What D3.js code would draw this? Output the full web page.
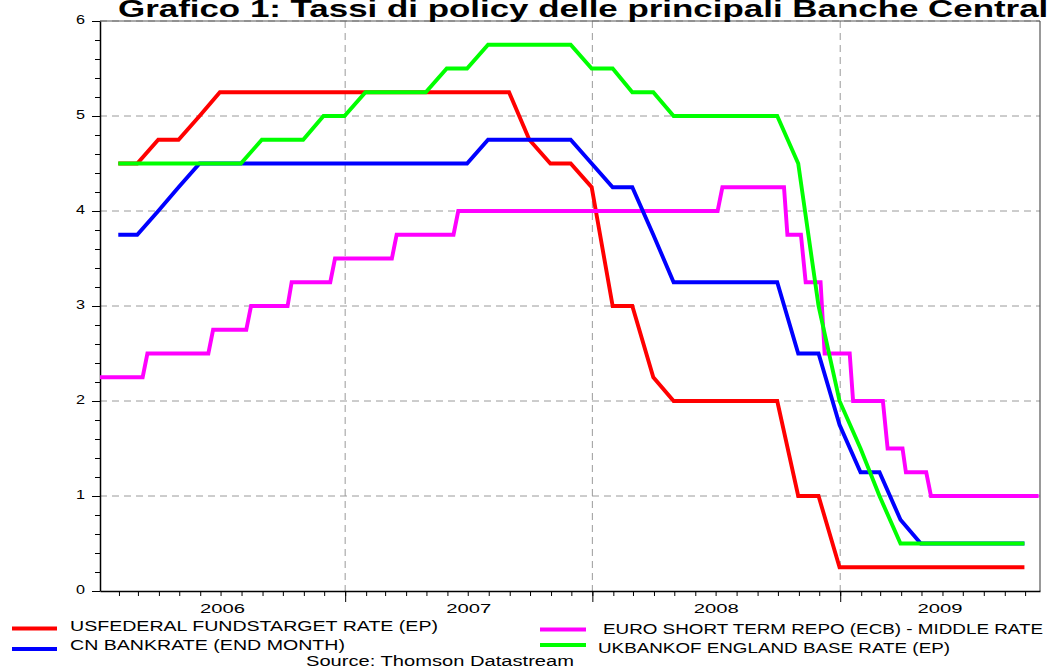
<!DOCTYPE html>
<html>
<head>
<meta charset="utf-8">
<script src="https://cdn.jsdelivr.net/npm/d3@7/dist/d3.min.js"></script>
<style>
  html, body { margin: 0; padding: 0; background: #fff; }
  svg { display: block; font-family: "Liberation Sans", Arial, sans-serif; }
</style>
</head>
<body>
<svg id="chart" width="1047" height="668"></svg>
<script>
// ---------------- DATA ----------------
const titleText = "Grafico 1: Tassi di policy delle principali Banche Centrali";
const sourceText = "Source: Thomson Datastream";

// monthly observations (end of month values)
const months = [
  "2006-01","2006-02","2006-03","2006-04","2006-05","2006-06","2006-07","2006-08","2006-09","2006-10","2006-11","2006-12",
  "2007-01","2007-02","2007-03","2007-04","2007-05","2007-06","2007-07","2007-08","2007-09","2007-10","2007-11","2007-12",
  "2008-01","2008-02","2008-03","2008-04","2008-05","2008-06","2008-07","2008-08","2008-09","2008-10","2008-11","2008-12",
  "2009-01","2009-02","2009-03","2009-04","2009-05","2009-06","2009-07","2009-08","2009-09"
];
const usFedValues = [
  4.5,4.5,4.75,4.75,5.0,5.25,5.25,5.25,5.25,5.25,5.25,5.25,
  5.25,5.25,5.25,5.25,5.25,5.25,5.25,5.25,4.75,4.5,4.5,4.25,
  3.0,3.0,2.25,2.0,2.0,2.0,2.0,2.0,2.0,1.0,1.0,0.25,
  0.25,0.25,0.25,0.25,0.25,0.25,0.25,0.25,0.25
];
const cnBankValues = [
  3.75,3.75,4.0,4.25,4.5,4.5,4.5,4.5,4.5,4.5,4.5,4.5,
  4.5,4.5,4.5,4.5,4.5,4.5,4.75,4.75,4.75,4.75,4.75,4.5,
  4.25,4.25,3.75,3.25,3.25,3.25,3.25,3.25,3.25,2.5,2.5,1.75,
  1.25,1.25,0.75,0.5,0.5,0.5,0.5,0.5,0.5
];
const ukBoeValues = [
  4.5,4.5,4.5,4.5,4.5,4.5,4.5,4.75,4.75,4.75,5.0,5.0,
  5.25,5.25,5.25,5.25,5.5,5.5,5.75,5.75,5.75,5.75,5.75,5.5,
  5.5,5.25,5.25,5.0,5.0,5.0,5.0,5.0,5.0,4.5,3.0,2.0,
  1.5,1.0,0.5,0.5,0.5,0.5,0.5,0.5,0.5
];
// weekly ECB series: observations around each change
const euroDates = [
  "2006-01-04","2006-03-08","2006-03-15","2006-06-13","2006-06-20","2006-08-08","2006-08-15",
  "2006-10-08","2006-10-14","2006-12-10","2006-12-17","2007-03-11","2007-03-18","2007-06-10","2007-06-17",
  "2008-07-04","2008-07-11","2008-10-10","2008-10-15","2008-11-04","2008-11-11","2008-12-03","2008-12-09",
  "2009-01-15","2009-01-20","2009-03-05","2009-03-12","2009-04-03","2009-04-08","2009-05-08","2009-05-15","2009-10-21"
];
const euroValues = [
  2.25,2.25,2.5,2.5,2.75,2.75,3.0,
  3.0,3.25,3.25,3.5,3.5,3.75,3.75,4.0,
  4.0,4.25,4.25,3.75,3.75,3.25,3.25,2.5,
  2.5,2.0,2.0,1.5,1.5,1.25,1.25,1.0,1.0
];

const seriesNames = [
  "USFEDERAL FUNDSTARGET RATE (EP)",
  "EURO SHORT TERM REPO (ECB) - MIDDLE RATE",
  "CN BANKRATE (END MONTH)",
  "UKBANKOF ENGLAND BASE RATE (EP)"
];
const seriesColors = ["#ff0000", "#ff00ff", "#0000ff", "#00ff00"];
const yTickLabels = [0, 1, 2, 3, 4, 5, 6];
const yearLabels = ["2006", "2007", "2008", "2009"];

// ---------------- CHART ----------------
const svg = d3.select("#chart");
const parseDay = d3.utcParse("%Y-%m-%d");
const parseMonth = d3.utcParse("%Y-%m");
const monthEnd = m => d3.utcDay.offset(d3.utcMonth.offset(parseMonth(m), 1), -1);

const x0 = parseDay("2006-01-04"), x1 = parseDay("2009-10-23");
const x = d3.scaleUtc().domain([x0, x1]).range([100, 1040]);
const y = d3.scaleLinear().domain([0, 6]).range([591, 21]);

// gridlines
const grid = svg.append("g");
grid.selectAll("line.h").data([1, 2, 3, 4, 5, 6]).join("line")
  .attr("x1", x.range()[0]).attr("x2", x.range()[1])
  .attr("y1", d => y(d)).attr("y2", d => y(d))
  .attr("stroke", "#9a9a9a").attr("stroke-width", 1).attr("stroke-dasharray", "7,5");
const yearStarts = yearLabels.slice(1).map(yy => parseDay(yy + "-01-01"));
grid.selectAll("line.v").data(yearStarts).join("line")
  .attr("x1", d => x(d)).attr("x2", d => x(d))
  .attr("y1", y(6)).attr("y2", y(0))
  .attr("stroke", "#9a9a9a").attr("stroke-width", 1).attr("stroke-dasharray", "7,5");

// frame: top and right
svg.append("line").attr("x1", 100).attr("x2", 1040).attr("y1", y(6)).attr("y2", y(6))
  .attr("stroke", "#555").attr("stroke-width", 1);
svg.append("line").attr("x1", 1040).attr("x2", 1040).attr("y1", y(6)).attr("y2", y(0))
  .attr("stroke", "#555").attr("stroke-width", 1.2);

// y axis
const yMinor = d3.range(0, 30.5, 1).map(i => i / 5);
svg.append("g").attr("transform", "translate(100,0)")
  .call(d3.axisLeft(y).tickValues(yMinor).tickSize(5).tickSizeOuter(0).tickFormat(""))
  .call(g => g.selectAll("line").attr("stroke", "#000"))
  .call(g => g.select(".domain").attr("stroke", "#000").attr("stroke-width", 1.5));
svg.append("g").attr("transform", "translate(100,0)")
  .call(d3.axisLeft(y).tickValues(yTickLabels).tickSize(8).tickSizeOuter(0).tickFormat(""))
  .call(g => g.select(".domain").remove())
  .call(g => g.selectAll("line").attr("stroke", "#000"));
svg.append("g").selectAll("text").data(yTickLabels).join("text")
  .attr("x", 85).attr("y", d => y(d) + 2.5)
  .attr("text-anchor", "end")
  .attr("font-size", 12.5)
  .attr("textLength", 9).attr("lengthAdjust", "spacingAndGlyphs")
  .attr("fill", "#000")
  .text(d => d);

// x axis
svg.append("g").attr("transform", `translate(0,${y(0)})`)
  .call(d3.axisBottom(x).ticks(d3.utcMonth.every(1)).tickSize(5).tickSizeOuter(0).tickFormat(""))
  .call(g => g.selectAll("line").attr("stroke", "#000"))
  .call(g => g.select(".domain").attr("stroke", "#000").attr("stroke-width", 1.5));
svg.append("g").attr("transform", `translate(0,${y(0)})`)
  .call(d3.axisBottom(x).tickValues(yearStarts).tickSize(11).tickSizeOuter(0).tickFormat(""))
  .call(g => g.select(".domain").remove())
  .call(g => g.selectAll("line").attr("stroke", "#000"));
svg.append("g").selectAll("text").data(yearLabels).join("text")
  .attr("x", d => {
    const a = Math.max(x(parseDay(d + "-01-01")), x.range()[0]);
    const b = Math.min(x(parseDay((+d + 1) + "-01-01")), x.range()[1]);
    return (a + b) / 2;
  })
  .attr("y", 613)
  .attr("text-anchor", "middle")
  .attr("font-size", 13)
  .attr("textLength", 45).attr("lengthAdjust", "spacingAndGlyphs")
  .text(d => d);

// series
const monthDates = months.map(monthEnd);
const line = d3.line().x(d => x(d[0])).y(d => y(d[1]));
const seriesData = [
  monthDates.map((d, i) => [d, usFedValues[i]]),
  euroDates.map((d, i) => [parseDay(d), euroValues[i]]),
  monthDates.map((d, i) => [d, cnBankValues[i]]),
  monthDates.map((d, i) => [d, ukBoeValues[i]])
];
svg.append("g").selectAll("path").data(seriesData).join("path")
  .attr("d", line)
  .attr("fill", "none")
  .attr("stroke", (d, i) => seriesColors[i])
  .attr("stroke-width", 3.9)
  .attr("stroke-linejoin", "miter");

// legend
const legendItems = [
  { i: 0, lx: 12, lw: 45, ly: 628.5, tx: 70, ty: 631, tl: 368 },
  { i: 1, lx: 540, lw: 46, ly: 629.5, tx: 603, ty: 634, tl: 440 },
  { i: 2, lx: 12, lw: 45, ly: 649, tx: 70, ty: 649.5, tl: 275 },
  { i: 3, lx: 540, lw: 46, ly: 645, tx: 598, ty: 652.5, tl: 352 }
];
const lg = svg.append("g");
lg.selectAll("line").data(legendItems).join("line")
  .attr("x1", d => d.lx).attr("x2", d => d.lx + d.lw)
  .attr("y1", d => d.ly).attr("y2", d => d.ly)
  .attr("stroke", d => seriesColors[d.i]).attr("stroke-width", 4);
lg.selectAll("text").data(legendItems).join("text")
  .attr("x", d => d.tx).attr("y", d => d.ty)
  .attr("font-size", 14)
  .attr("textLength", d => d.tl).attr("lengthAdjust", "spacingAndGlyphs")
  .text(d => seriesNames[d.i]);

// source
svg.append("text").attr("x", 306).attr("y", 666)
  .attr("font-size", 14)
  .attr("textLength", 268).attr("lengthAdjust", "spacingAndGlyphs")
  .text(sourceText);

// title (cut at the top and right edge as in the reference)
svg.append("text").attr("x", 118).attr("y", 17)
  .attr("font-size", 24).attr("font-weight", "bold")
  .attr("textLength", 940).attr("lengthAdjust", "spacingAndGlyphs")
  .text(titleText);
</script>
</body>
</html>
